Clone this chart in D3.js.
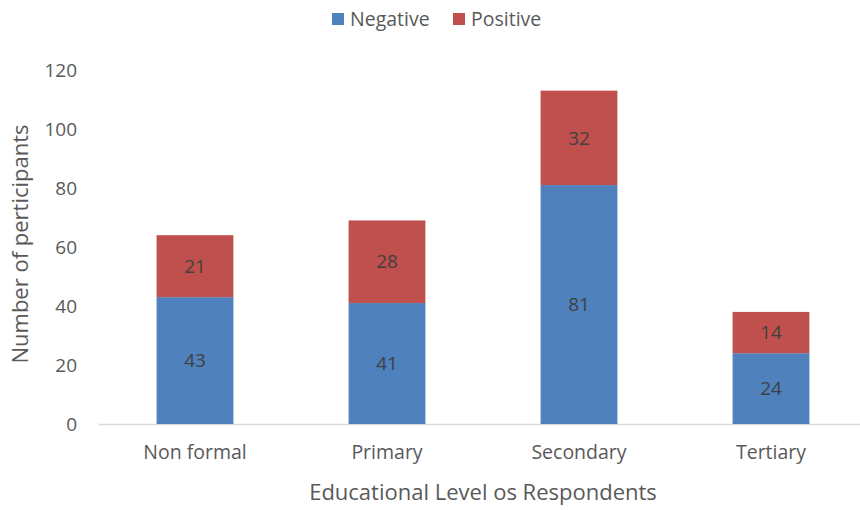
<!DOCTYPE html>
<html><head><meta charset="utf-8">
<script src="https://cdn.jsdelivr.net/npm/d3@7"></script>
<style>body{margin:0;background:#fff}svg{display:block}text{font-family:"Open Sans",sans-serif}</style>
</head><body><svg id="c" width="860" height="510"></svg>
<script>
const categories = ["Non formal","Primary","Secondary","Tertiary"];
const negative = [43,41,81,24];
const positive = [21,28,32,14];
const yTicks = [0,20,40,60,80,100,120];
const seriesNames = ["Negative","Positive"];
const colors = ["#4F81BD","#C0504D"];

const svg = d3.select("#c");
const x = d3.scaleBand().domain(categories).range([99,867]).paddingInner(0.6).paddingOuter(0.3);
const y = d3.scaleLinear().domain([0,120]).range([424,70]);

const rows = categories.map((c,i)=>({cat:c, Negative:negative[i], Positive:positive[i]}));
const stack = d3.stack().keys(seriesNames)(rows);

// y tick labels
svg.append("g").selectAll("text").data(yTicks).join("text")
  .attr("x",77).attr("y",d=>y(d)).attr("dy","0.35em").attr("text-anchor","end")
  .attr("font-size",19).attr("fill","#595959").text(d=>d);

// axis line
svg.append("line").attr("x1",99).attr("x2",867).attr("y1",y(0)+0.5).attr("y2",y(0)+0.5)
  .attr("stroke","#D9D9D9").attr("stroke-width",1.5);

// bars
stack.forEach((s,si)=>{
  const g = svg.append("g");
  g.selectAll("rect").data(s).join("rect")
    .attr("x",d=>x(d.data.cat)).attr("width",x.bandwidth())
    .attr("y",d=>y(d[1])).attr("height",d=>y(d[0])-y(d[1]))
    .attr("fill",colors[si]);
  g.selectAll("text").data(s).join("text")
    .attr("x",d=>x(d.data.cat)+x.bandwidth()/2).attr("y",d=>y((d[0]+d[1])/2))
    .attr("dy","0.35em").attr("text-anchor","middle").attr("font-size",19).attr("fill","#404040")
    .text(d=>d[1]-d[0]);
});

// x labels
svg.append("g").selectAll("text").data(categories).join("text")
  .attr("x",d=>x(d)+x.bandwidth()/2).attr("y",452).attr("dy","0.35em").attr("text-anchor","middle")
  .attr("font-size",19.5).attr("fill","#595959").text(d=>d);

// axis titles
svg.append("text").attr("x",483).attr("y",492).attr("dy","0.35em").attr("text-anchor","middle")
  .attr("font-size",22).attr("fill","#595959").text("Educational Level os Respondents");
svg.append("text").attr("transform","translate(20,244) rotate(-90)").attr("dy","0.35em")
  .attr("text-anchor","middle").attr("font-size",22).attr("fill","#595959").text("Number of perticipants");

// legend
const leg = svg.append("g");
const legX = [332,453];
seriesNames.forEach((n,i)=>{
  leg.append("rect").attr("x",legX[i]).attr("y",13).attr("width",12).attr("height",12).attr("fill",colors[i]);
  leg.append("text").attr("x",legX[i]+18).attr("y",19).attr("dy","0.35em").attr("font-size",19.5)
    .attr("fill","#595959").text(n);
});
</script></body></html>
